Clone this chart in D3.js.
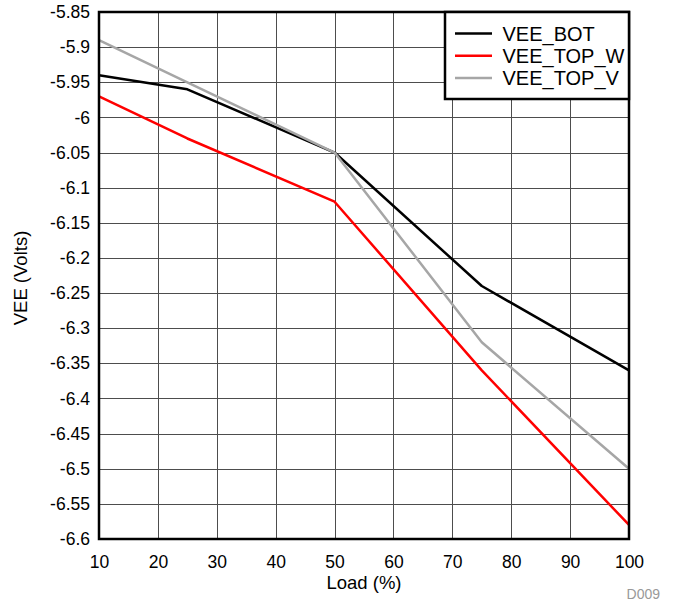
<!DOCTYPE html>
<html><head><meta charset="utf-8">
<script src="https://cdn.jsdelivr.net/npm/d3@7"></script>
<style>body{margin:0;background:#fff;} svg{display:block;} text{font-family:"Liberation Sans",Arial,sans-serif;}</style>
</head><body>
<script>
const loads = [10, 25, 50, 75, 100];
const veeBot = [-5.94, -5.96, -6.05, -6.24, -6.36];
const veeTopW = [-5.97, -6.03, -6.12, -6.36, -6.58];
const veeTopV = [-5.89, -5.95, -6.05, -6.32, -6.50];
const seriesNames = ["VEE_BOT", "VEE_TOP_W", "VEE_TOP_V"];
const seriesColors = ["#000000", "#ff0000", "#a6a6a6"];
const xTicks = [10,20,30,40,50,60,70,80,90,100];
const yTicks = [-5.85,-5.9,-5.95,-6,-6.05,-6.1,-6.15,-6.2,-6.25,-6.3,-6.35,-6.4,-6.45,-6.5,-6.55,-6.6];

const W = 677, H = 605;
const m = {left: 99, top: 12, right: 629, bottom: 539};
const svg = d3.select("body").append("svg").attr("width", W).attr("height", H);
const x = d3.scaleLinear().domain([10, 100]).range([m.left, m.right]);
const y = d3.scaleLinear().domain([-5.85, -6.6]).range([m.top, m.bottom]);

// grid
svg.append("g").selectAll("line").data(xTicks).join("line")
  .attr("x1", d => Math.round(x(d)) + 0.5).attr("x2", d => Math.round(x(d)) + 0.5)
  .attr("y1", m.top).attr("y2", m.bottom).attr("stroke", "#4d4d4d").attr("stroke-width", 1);
svg.append("g").selectAll("line").data(yTicks).join("line")
  .attr("y1", d => Math.round(y(d)) + 0.5).attr("y2", d => Math.round(y(d)) + 0.5)
  .attr("x1", m.left).attr("x2", m.right).attr("stroke", "#4d4d4d").attr("stroke-width", 1);

// axes labels via d3 axes (no domain/tick lines)
const xAxis = svg.append("g").attr("transform", `translate(0,${m.bottom})`)
  .call(d3.axisBottom(x).tickValues(xTicks).tickSize(0).tickPadding(0).tickFormat(d3.format("d")));
xAxis.select(".domain").remove();
xAxis.selectAll("text").attr("font-size", 17.5).attr("fill", "#000").attr("dy", null).attr("y", 29)
  .attr("font-family", "Liberation Sans, Arial, sans-serif");
const yAxis = svg.append("g").attr("transform", `translate(${m.left},0)`)
  .call(d3.axisLeft(y).tickValues(yTicks).tickSize(0).tickPadding(9).tickFormat(d => String(+d.toFixed(2))));
yAxis.select(".domain").remove();
yAxis.selectAll("text").attr("font-size", 17.5).attr("fill", "#000")
  .attr("font-family", "Liberation Sans, Arial, sans-serif");

// lines
const allSeries = [veeBot, veeTopW, veeTopV];
const line = d3.line().x((d, i) => x(loads[i])).y(d => y(d));
allSeries.forEach((s, k) => {
  svg.append("path").datum(s).attr("d", line).attr("fill", "none")
    .attr("stroke", seriesColors[k]).attr("stroke-width", 2.5).attr("stroke-linejoin", "round");
});

// frame
svg.append("rect").attr("x", m.left).attr("y", m.top).attr("width", m.right - m.left).attr("height", m.bottom - m.top)
  .attr("fill", "none").attr("stroke", "#000").attr("stroke-width", 2.5);

// legend
const lg = svg.append("g");
lg.append("rect").attr("x", 445).attr("y", m.top).attr("width", m.right - 445).attr("height", 87)
  .attr("fill", "#fff").attr("stroke", "#000").attr("stroke-width", 2.5);
seriesNames.forEach((n, i) => {
  const yy = 33.5 + i * 22.2;
  lg.append("line").attr("x1", 455).attr("x2", 492).attr("y1", yy).attr("y2", yy)
    .attr("stroke", seriesColors[i]).attr("stroke-width", 2.5);
  lg.append("text").attr("x", 502.5).attr("y", yy + 7).attr("font-size", 20).text(n);
});

// titles
svg.append("text").attr("x", 364).attr("y", 589).attr("text-anchor", "middle")
  .attr("font-size", 18.5).text("Load (%)");
svg.append("text").attr("transform", `translate(27,278) rotate(-90)`)
  .attr("text-anchor", "middle").attr("font-size", 18.5).text("VEE (Volts)");
svg.append("text").attr("x", 660).attr("y", 599).attr("text-anchor", "end")
  .attr("font-size", 14).attr("fill", "#999").text("D009");
</script>
</body></html>
